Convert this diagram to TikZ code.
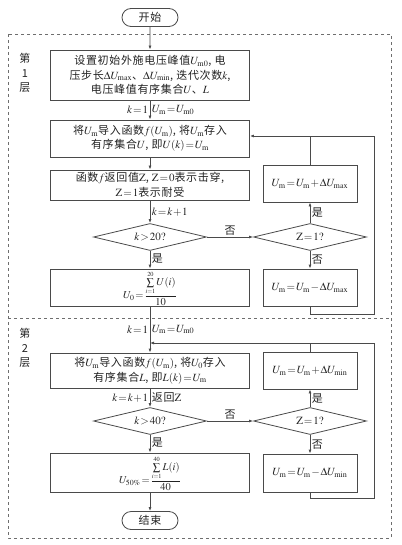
\documentclass[tikz,border=0pt]{standalone}
\usepackage{amsmath}
\usepackage{mathptmx}
\usepackage{fontspec}
\setmainfont{Liberation Serif}
\newfontfamily\cjk[LetterSpace=6]{Noto Sans CJK SC}
\usetikzlibrary{arrows.meta,positioning,shapes.geometric,shapes.misc}
\definecolor{ink}{HTML}{222222}
\definecolor{wirec}{HTML}{4A4A4A}
\definecolor{framec}{HTML}{6E6E6E}
\thickmuskip=1.5mu
\medmuskip=1mu
\newcommand{\Um}{U_{\mathrm{m}}}
\newcommand{\smallsum}[2]{\sum\limits_{\scriptscriptstyle #1}^{\scriptscriptstyle #2}}

\begin{document}
\begin{tikzpicture}[x=1pt,y=-1pt,
  font=\fontsize{11}{14.5}\selectfont\cjk,text=ink,
  proc/.style={draw=wirec,line width=0.8pt,minimum width=199pt,align=center,inner sep=1pt},
  side/.style={draw=wirec,line width=0.8pt,minimum width=94pt,minimum height=37pt,inner sep=1pt},
  decide/.style={diamond,draw=wirec,line width=0.8pt,minimum width=113pt,minimum height=27pt,
                 aspect=4.2,inner sep=0pt},
  term/.style={rounded rectangle,draw=wirec,line width=0.8pt,minimum width=58pt,
               minimum height=18pt,inner sep=1pt},
  flow/.style={draw=wirec,line width=0.8pt,-{Latex[length=4pt,width=3pt]}},
  link/.style={draw=wirec,line width=0.8pt},
  layer/.style={draw=framec,dashed,line width=0.6pt},
  lbl/.style={inner sep=1.5pt},
  formula/.style={font=\fontsize{10.5}{12}\selectfont,inner sep=0pt}]
  \useasboundingbox (0,0) rectangle (401,545);
  \draw[layer] (8,34) rectangle (391,538);
  \draw[layer] (8,318) -- (391,318);
  \node[align=center,inner sep=0pt] (lay1) at (25,73) {第\\1\\层};
  \node[align=center,inner sep=0pt] (lay2) at (25,348) {第\\2\\层};

  \node[term] (start) at (150,17.5) {开始};
  \node[proc,minimum height=50pt] (init) at (150,75) {%
    设置初始外施电压峰值$U_{\mathrm{m}0}$, 电\\
    压步长$\Delta U_{\max}$、$\Delta U_{\min}$, 迭代次数$k$,\\
    电压峰值有序集合$U$、$L$};
  \node[proc,minimum height=37pt] (load) at (150,138.5) {%
    将$\Um$导入函数$f(\Um)$, 将$\Um$存入\\有序集合$U$, 即$U(k)=\Um$};
  \node[proc,minimum height=30pt] (judge) at (150,185) {%
    函数$f$返回值$\mathrm{Z}$, $\mathrm{Z}=0$表示击穿,\\$\mathrm{Z}=1$表示耐受};
  \node[decide] (cnt) at (150,237) {$k>20?$};
  \node[decide] (zchk) at (310,237) {$\mathrm{Z}=1?$};
  \node[side] (upmax) at (310,183.5) {$\Um=\Um+\Delta U_{\max}$};
  \node[side] (dnmax) at (310,287.5) {$\Um=\Um-\Delta U_{\max}$};
  \node[proc,minimum height=37pt] (avg) at (150,287.5) {};
  \node[formula] (avgf) at ([yshift=-1pt]avg) {$U_0=\dfrac{\smallsum{i=1}{20}U(i)}{10}$};

  \node[proc,minimum height=35pt] (load2) at (150,370.5) {%
    将$\Um$导入函数$f(\Um)$, 将$U_0$存入\\有序集合$L$, 即$L(k)=\Um$};
  \node[side] (upmin) at (310,370.5) {$\Um=\Um+\Delta U_{\min}$};
  \node[decide] (cnt2) at (150,421) {$k>40?$};
  \node[decide] (zchk2) at (310,421) {$\mathrm{Z}=1?$};
  \node[proc,minimum height=39pt] (avg2) at (150,472.5) {};
  \node[formula] (avg2f) at ([yshift=-1pt]avg2) {$U_{50\%}=\dfrac{\smallsum{i=1}{40}L(i)}{40}$};
  \node[side,minimum height=38pt] (dnmin) at (310,473) {$\Um=\Um-\Delta U_{\min}$};
  \node[term] (stop) at (150,520.5) {结束};

  \coordinate (back1) at (374,136);
  \coordinate (back1b) at (374,314);
  \coordinate (back2) at (374,343);
  \coordinate (back2b) at (374,498);

  \draw[flow] (start) -- (init);
  \draw[flow] (init) -- node[left,lbl]{$k=1$} node[right,lbl]{$\Um=U_{\mathrm{m}0}$} (load);
  \draw[flow] (load) -- (judge);
  \draw[flow] (judge) -- node[right,lbl]{$k=k+1$} (cnt);
  \draw[flow] (cnt) -- node[above,lbl]{否} (zchk);
  \draw[flow] (cnt) -- node[right,lbl,yshift=1pt]{是} (avg);
  \draw[flow] (zchk) -- node[right,lbl]{是} (upmax);
  \draw[flow] (zchk) -- node[right,lbl]{否} (dnmax);
  \draw[flow] (upmax.north) |- (load.east |- back1);
  \draw[link] (dnmax.south) |- (back1b) -- (back1) -- (upmax.north |- back1);

  \draw[flow] (avg) -- node[left,lbl]{$k=1$} node[right,lbl]{$\Um=U_{\mathrm{m}0}$} (load2);
  \draw[flow] (upmin.north) |- (avg.south |- back2);
  \draw[link] (dnmin.south) |- (back2b) -- (back2) -- (upmin.north |- back2);
  \draw[flow] (load2) -- node[left,lbl]{$k=k+1$} node[right,lbl]{返回$\mathrm{Z}$} (cnt2);
  \draw[flow] (cnt2) -- node[above,lbl]{否} (zchk2);
  \draw[flow] (cnt2) -- node[right,lbl,yshift=1pt]{是} (avg2);
  \draw[flow] (zchk2) -- node[right,lbl]{是} (upmin);
  \draw[flow] (zchk2) -- node[right,lbl]{否} (dnmin);
  \draw[flow] (avg2) -- (stop);
\end{tikzpicture}
\end{document}
